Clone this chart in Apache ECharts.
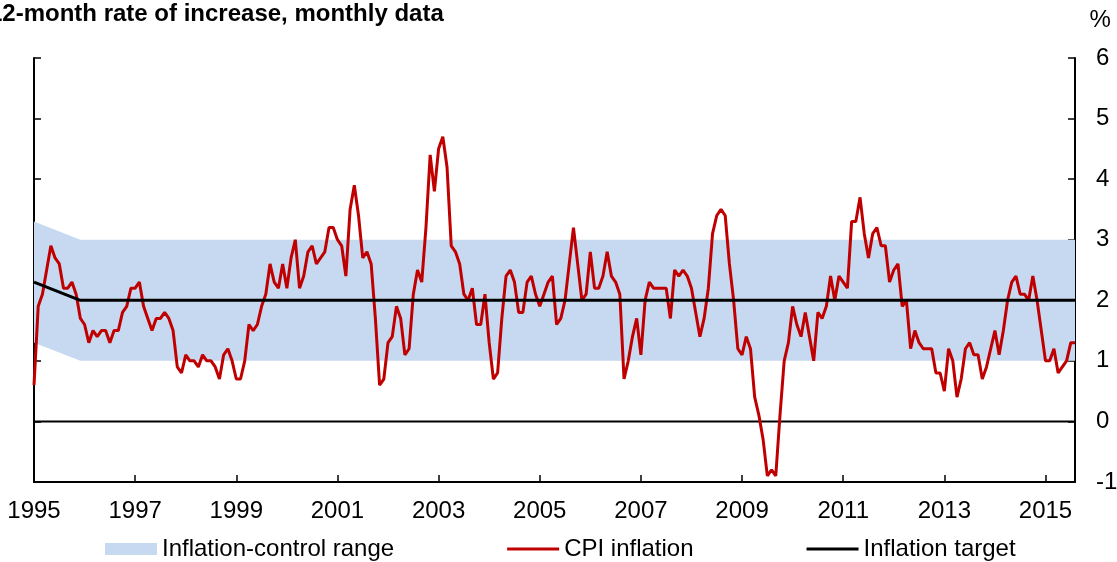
<!DOCTYPE html>
<html><head><meta charset="utf-8">
<script src="https://cdn.jsdelivr.net/npm/echarts@6/dist/echarts.min.js"></script>
<style>html,body{margin:0;padding:0;background:#fff}#c{width:1117px;height:562px}</style>
</head><body><div id="c"></div>
<script>
const titleText = '12-month rate of increase, monthly data';
const unitText = '%';
const startYear = 1995;
const legendNames = ['Inflation-control range', 'CPI inflation', 'Inflation target'];
// CPI inflation, 12-month % change, monthly from Jan 1995 to Aug 2015
const cpiInflation = [
  0.6, 1.9, 2.1, 2.5, 2.9, 2.7, 2.6, 2.2, 2.2, 2.3, 2.1, 1.7,
  1.6, 1.3, 1.5, 1.4, 1.5, 1.5, 1.3, 1.5, 1.5, 1.8, 1.9, 2.2,
  2.2, 2.3, 1.9, 1.7, 1.5, 1.7, 1.7, 1.8, 1.7, 1.5, 0.9, 0.8,
  1.1, 1.0, 1.0, 0.9, 1.1, 1.0, 1.0, 0.9, 0.7, 1.1, 1.2, 1.0,
  0.7, 0.7, 1.0, 1.6, 1.5, 1.6, 1.9, 2.1, 2.6, 2.3, 2.2, 2.6,
  2.2, 2.7, 3.0, 2.2, 2.4, 2.8, 2.9, 2.6, 2.7, 2.8, 3.2, 3.2,
  3.0, 2.9, 2.4, 3.5, 3.9, 3.4, 2.7, 2.8, 2.6, 1.7, 0.6, 0.7,
  1.3, 1.4, 1.9, 1.7, 1.1, 1.2, 2.1, 2.5, 2.3, 3.2, 4.4, 3.8,
  4.5, 4.7, 4.2, 2.9, 2.8, 2.6, 2.1, 2.0, 2.2, 1.6, 1.6, 2.1,
  1.3, 0.7, 0.8, 1.7, 2.4, 2.5, 2.3, 1.8, 1.8, 2.3, 2.4, 2.1,
  1.9, 2.1, 2.3, 2.4, 1.6, 1.7, 2.0, 2.6, 3.2, 2.6, 2.0, 2.1,
  2.8, 2.2, 2.2, 2.4, 2.8, 2.4, 2.3, 2.1, 0.7, 1.0, 1.4, 1.7,
  1.1, 2.0, 2.3, 2.2, 2.2, 2.2, 2.2, 1.7, 2.5, 2.4, 2.5, 2.4,
  2.2, 1.8, 1.4, 1.7, 2.2, 3.1, 3.4, 3.5, 3.4, 2.6, 2.0, 1.2,
  1.1, 1.4, 1.2, 0.4, 0.1, -0.3, -0.9, -0.8, -0.9, 0.1, 1.0, 1.3,
  1.9, 1.6, 1.4, 1.8, 1.4, 1.0, 1.8, 1.7, 1.9, 2.4, 2.0, 2.4,
  2.3, 2.2, 3.3, 3.3, 3.7, 3.1, 2.7, 3.1, 3.2, 2.9, 2.9, 2.3,
  2.5, 2.6, 1.9, 2.0, 1.2, 1.5, 1.3, 1.2, 1.2, 1.2, 0.8, 0.8,
  0.5, 1.2, 1.0, 0.4, 0.7, 1.2, 1.3, 1.1, 1.1, 0.7, 0.9, 1.2,
  1.5, 1.1, 1.5, 2.0, 2.3, 2.4, 2.1, 2.1, 2.0, 2.4, 2.0, 1.5,
  1.0, 1.0, 1.2, 0.8, 0.9, 1.0, 1.3, 1.3
];
// Inflation target: month index from Jan 1995 and value
const targetMonths = [0, 11, 247];
const targetValues = [2.3, 2.0, 2.0];
const bandHalfWidth = 1;
const yTicks = [-1, 0, 1, 2, 3, 4, 5, 6];
const xLabelYears = [1995, 1997, 1999, 2001, 2003, 2005, 2007, 2009, 2011, 2013, 2015];

const FONT = "'Liberation Sans', Arial, sans-serif";
const toX = m => startYear + m / 12;
const cpiData = cpiInflation.map((v, i) => [toX(i), v]);
const targetData = targetMonths.map((m, k) => [toX(m), targetValues[k]]);
const bandData = targetMonths.map((m, k) => [toX(m), targetValues[k] - bandHalfWidth, targetValues[k] + bandHalfWidth]);
const xMax = toX(cpiInflation.length - 1);
const zeroData = [[startYear, 0], [xMax, 0]];

const chart = echarts.init(document.getElementById('c'), null, {renderer: 'canvas'});
const yBase = {
  type: 'value', min: yTicks[0], max: yTicks[yTicks.length - 1], interval: 1,
  axisLine: {show: true, lineStyle: {color: '#000', width: 2}},
  axisTick: {show: true, inside: true, length: 7, lineStyle: {color: '#000', width: 1.5}},
  splitLine: {show: false}
};
const lineIcon = 'path://M0,0L52,0L52,3L0,3Z';
chart.setOption({
  animation: false,
  backgroundColor: '#fff',
  graphic: [
    {type: 'text', left: -11, top: 2, style: {text: titleText, font: 'bold 24px ' + FONT, fill: '#000'}},
    {type: 'text', left: 1089.5, top: 8, style: {text: unitText, font: '24px ' + FONT, fill: '#000'}}
  ],
  grid: {left: 34, right: 42, top: 58, bottom: 80, containLabel: false, outerBoundsMode: 'none'},
  legend: {
    left: 105, top: 537, padding: 0, itemWidth: 52, itemHeight: 12, itemGap: 113,
    symbolKeepAspect: true,
    textStyle: {fontSize: 24, fontFamily: FONT, color: '#000'},
    data: [
      {name: legendNames[0], icon: 'rect', itemStyle: {color: '#c6d9f0'}},
      {name: legendNames[1], icon: lineIcon, itemStyle: {color: '#c00000'}},
      {name: legendNames[2], icon: lineIcon, itemStyle: {color: '#000'}}
    ]
  },
  xAxis: {
    type: 'value', min: startYear, max: xMax, interval: 2,
    axisLine: {show: true, onZero: false, lineStyle: {color: '#000', width: 2}},
    axisTick: {show: true, inside: true, length: 7, lineStyle: {color: '#000', width: 1.5}},
    axisLabel: {
      margin: 17, fontSize: 24, fontFamily: FONT, color: '#000',
      showMaxLabel: false,
      formatter: v => xLabelYears.indexOf(Math.round(v)) >= 0 && Math.abs(v - Math.round(v)) < 1e-6 ? String(Math.round(v)) : ''
    },
    splitLine: {show: false}
  },
  yAxis: [
    Object.assign({}, yBase, {position: 'right',
      axisLabel: {margin: 21, fontSize: 24, fontFamily: FONT, color: '#000'}}),
    Object.assign({}, yBase, {position: 'left', axisLabel: {show: false}})
  ],
  series: [
    {
      name: legendNames[0], type: 'custom', data: bandData, silent: true, z: 1,
      encode: {x: 0, y: [1, 2]},
      itemStyle: {color: '#c6d9f0'},
      renderItem: (params, api) => {
        if (params.dataIndex !== 0) return null;
        const upper = bandData.map(d => api.coord([d[0], d[2]]));
        const lower = bandData.slice().reverse().map(d => api.coord([d[0], d[1]]));
        return {type: 'polygon', shape: {points: upper.concat(lower)}, style: {fill: '#c6d9f0'}};
      }
    },
    {
      name: 'zero', type: 'line', data: zeroData, symbol: 'none', silent: true,
      lineStyle: {color: '#000', width: 2}, z: 2
    },
    {
      name: legendNames[1], type: 'line', data: cpiData, symbol: 'none',
      lineStyle: {color: '#c00000', width: 3}, itemStyle: {color: '#c00000'}, z: 3
    },
    {
      name: legendNames[2], type: 'line', data: targetData, symbol: 'none',
      lineStyle: {color: '#000', width: 3}, itemStyle: {color: '#000'}, z: 4
    }
  ]
});
</script>
</body></html>
